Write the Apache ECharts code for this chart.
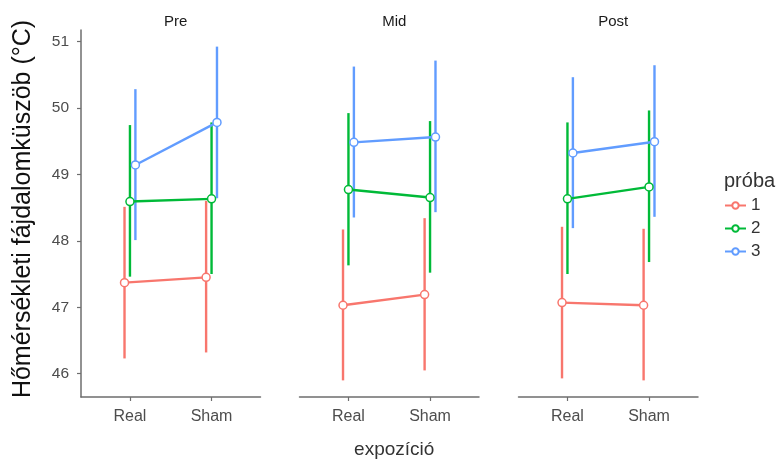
<!DOCTYPE html>
<html>
<head>
<meta charset="utf-8">
<script src="https://cdn.jsdelivr.net/npm/echarts@6/dist/echarts.min.js"></script>
<style>html,body{margin:0;padding:0;background:#fff}#chart{width:776px;height:459px}</style>
</head>
<body>
<div id="chart"></div>
<script>
// ---- data ----
const panels = ['Pre', 'Mid', 'Post'];
const exposures = ['Real', 'Sham'];
const probaLevels = ['1', '2', '3'];
const yTicks = [46, 47, 48, 49, 50, 51];

// rows: próba 1, 2, 3 ; columns: Real, Sham
const preMean = [[47.37, 47.45], [48.59, 48.63], [49.14, 49.78]];
const preLow  = [[46.23, 46.32], [47.46, 47.50], [48.01, 48.64]];
const preHigh = [[48.51, 48.60], [49.74, 49.78], [50.28, 50.92]];

const midMean = [[47.03, 47.19], [48.77, 48.65], [49.48, 49.56]];
const midLow  = [[45.90, 46.05], [47.63, 47.52], [48.35, 48.43]];
const midHigh = [[48.17, 48.34], [49.92, 49.80], [50.62, 50.71]];

const postMean = [[47.07, 47.03], [48.63, 48.81], [49.32, 49.49]];
const postLow  = [[45.93, 45.90], [47.50, 47.68], [48.19, 48.36]];
const postHigh = [[48.21, 48.18], [49.78, 49.96], [50.46, 50.64]];

// ---- layout / style ----
const meanSets = [preMean, midMean, postMean];
const lowSets = [preLow, midLow, postLow];
const highSets = [preHigh, midHigh, postHigh];
const colors = ['#F8766D', '#00BA38', '#619CFF'];
const dodge = [-0.2 / 3, 0, 0.2 / 3];
const gridLefts = [81, 299.5, 518.5];
const gridWidth = 179.5;
const gridTop = 30, gridHeight = 367;
const yMin = 45.65, yMax = 51.17;
const FONT = 'Liberation Sans';
const axisCol = '#6e6e6e';
const labelCol = '#4d4d4d';

const grids = [], xAxes = [], yAxes = [], series = [], titles = [];
panels.forEach((pn, p) => {
  grids.push({left: gridLefts[p], top: gridTop, width: gridWidth, height: gridHeight,
    containLabel: false, outerBoundsMode: 'none'});
  xAxes.push({
    type: 'value', gridIndex: p, min: 0.4, max: 2.6,
    axisLine: {show: true, onZero: false, lineStyle: {color: axisCol, width: 1.5}},
    axisTick: {show: true, length: 4, customValues: [1, 2], lineStyle: {color: axisCol, width: 1.2}},
    axisLabel: {show: true, customValues: [1, 2], margin: 12,
      formatter: v => exposures[Math.round(v) - 1],
      color: labelCol, fontFamily: FONT, fontSize: 16},
    splitLine: {show: false}
  });
  yAxes.push({
    type: 'value', gridIndex: p, min: yMin, max: yMax,
    axisLine: {show: p === 0, lineStyle: {color: axisCol, width: 1.5}},
    axisTick: {show: p === 0, length: 4, customValues: yTicks, lineStyle: {color: axisCol, width: 1.2}},
    axisLabel: {show: p === 0, customValues: yTicks, margin: 12,
      color: labelCol, fontFamily: FONT, fontSize: 15.5},
    splitLine: {show: false}
  });
  titles.push({text: pn, left: gridLefts[p] + gridWidth / 2, top: 9, textAlign: 'center',
    textStyle: {fontFamily: FONT, fontSize: 15, fontWeight: 'normal', color: '#1a1a1a'}});

  probaLevels.forEach((lv, s) => {
    const eb = exposures.map((e, c) => [c + 1 + dodge[s], lowSets[p][s][c], highSets[p][s][c]]);
    series.push({
      type: 'custom', name: 'eb' + p + s, xAxisIndex: p, yAxisIndex: p, z: 2,
      silent: true,
      encode: {x: 0, y: [1, 2]},
      data: eb,
      renderItem: (params, api) => {
        const a = api.coord([api.value(0), api.value(1)]);
        const b = api.coord([api.value(0), api.value(2)]);
        return {type: 'line', shape: {x1: a[0], y1: a[1], x2: b[0], y2: b[1]},
          style: {stroke: colors[s], lineWidth: 2.4}};
      }
    });
  });
  probaLevels.forEach((lv, s) => {
    series.push({
      type: 'line', name: lv, xAxisIndex: p, yAxisIndex: p, z: 3 + s,
      data: exposures.map((e, c) => [c + 1 + dodge[s], meanSets[p][s][c]]),
      symbol: 'circle', symbolSize: 8, showSymbol: true,
      itemStyle: {color: '#ffffff', borderColor: colors[s], borderWidth: 1.5},
      lineStyle: {color: colors[s], width: 2.4},
      emphasis: {disabled: true}, animation: false
    });
  });
});

titles.push({text: 'expozíció', left: gridLefts[1] + gridWidth / 2, top: 435, textAlign: 'center',
  textStyle: {fontFamily: FONT, fontSize: 19, fontWeight: 'normal', color: '#333'}});
titles.push({text: 'próba', left: 719, top: 166,
  textStyle: {fontFamily: FONT, fontSize: 20, fontWeight: 'normal', color: '#333'}});

const chart = echarts.init(document.getElementById('chart'), null, {renderer: 'canvas'});
chart.setOption({
  animation: false,
  backgroundColor: '#ffffff',
  title: titles,
  grid: grids,
  xAxis: xAxes,
  yAxis: yAxes,
  legend: {
    data: probaLevels, orient: 'vertical', left: 719, top: 192,
    itemWidth: 21, itemHeight: 8, itemGap: 6,
    textStyle: {fontFamily: FONT, fontSize: 17, color: '#333'},
    selectedMode: false
  },
  graphic: [{
    type: 'text', x: 23, y: 209, rotation: Math.PI / 2,
    style: {text: 'Hőmérsékleti fájdalomküszöb (°C)', fontFamily: FONT, fontSize: 25,
      fill: '#111', textAlign: 'center', textVerticalAlign: 'middle'}
  }],
  series: series
});
</script>
</body>
</html>
